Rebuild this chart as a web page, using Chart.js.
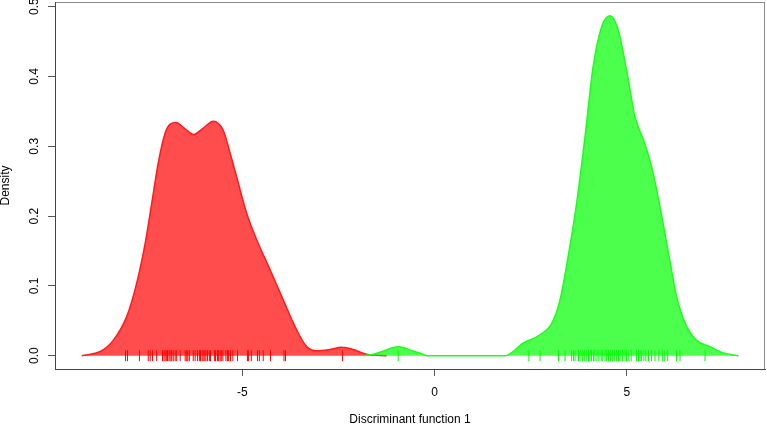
<!DOCTYPE html>
<html>
<head>
<meta charset="utf-8">
<script src="https://cdn.jsdelivr.net/npm/chart.js@4.4.1/dist/chart.umd.min.js"></script>
<style>
  html, body { margin: 0; padding: 0; background: #fff; }
  #wrap { width: 767px; height: 424px; }
</style>
</head>
<body>
<div id="wrap"><canvas id="c" width="767" height="424"></canvas></div>
<script>
// Density curve of group 1 (red)
const redX = [-9.18, -8.70, -8.36, -8.01, -7.75, -7.53, -7.36, -7.19, -7.01, -6.87, -6.73, -6.49, -6.27, -6.02, -5.76, -5.50, -5.32, -5.15, -4.89, -4.63, -4.28, -3.94, -3.59, -3.33, -3.07, -2.72, -2.42, -2.12, -1.77, -1.25];
const redY = [0.000, 0.006, 0.022, 0.056, 0.104, 0.161, 0.218, 0.276, 0.319, 0.332, 0.334, 0.325, 0.317, 0.326, 0.336, 0.323, 0.290, 0.256, 0.204, 0.166, 0.123, 0.080, 0.037, 0.013, 0.007, 0.009, 0.012, 0.009, 0.002, 0.000];

// Density curve of group 2 (green)
const greenX = [-1.86, -1.60, -1.35, -0.95, -0.55, -0.30, -0.21, 1.83, 2.30, 2.74, 3.04, 3.26, 3.47, 3.69, 3.91, 4.12, 4.34, 4.56, 4.77, 4.99, 5.21, 5.43, 5.64, 5.86, 6.08, 6.29, 6.55, 6.81, 7.16, 7.51, 7.90];
const greenY = [0.000, 0.002, 0.0065, 0.013, 0.0065, 0.002, 0.000, 0.000, 0.018, 0.030, 0.046, 0.080, 0.142, 0.218, 0.314, 0.414, 0.471, 0.487, 0.467, 0.409, 0.342, 0.309, 0.271, 0.213, 0.147, 0.085, 0.042, 0.022, 0.013, 0.004, 0.000];

// Rug (individual observations)
const redRug = [-8.04, -7.99, -7.68, -7.45, -7.40, -7.34, -7.23, -7.08, -7.04, -7.01, -6.97, -6.95, -6.91, -6.88, -6.84, -6.80, -6.75, -6.71, -6.62, -6.49, -6.45, -6.42, -6.38, -6.28, -6.23, -6.17, -6.12, -6.09, -6.05, -6.02, -5.98, -5.95, -5.91, -5.86, -5.83, -5.73, -5.70, -5.65, -5.62, -5.58, -5.55, -5.51, -5.43, -5.39, -5.36, -5.31, -5.25, -5.13, -4.87, -4.84, -4.77, -4.61, -4.56, -4.46, -4.27, -3.92, -3.88, -2.40];
const greenRug = [-0.95, 2.45, 2.74, 3.22, 3.39, 3.56, 3.61, 3.65, 3.74, 3.78, 3.84, 3.89, 3.94, 4.00, 4.04, 4.08, 4.13, 4.17, 4.22, 4.27, 4.33, 4.37, 4.43, 4.47, 4.52, 4.57, 4.62, 4.67, 4.73, 4.78, 4.82, 4.88, 4.95, 4.99, 5.05, 5.11, 5.25, 5.30, 5.34, 5.38, 5.44, 5.49, 5.56, 5.64, 5.73, 5.83, 5.92, 5.97, 6.06, 6.29, 6.38, 7.03];

// Axis ticks
const xTicks = [-5, 0, 5];
const yTicks = [0.0, 0.1, 0.2, 0.3, 0.4, 0.5];

const xTitle = 'Discriminant function 1';
const yTitle = 'Density';

const pts = (xs, ys) => xs.map((x, i) => ({x: x, y: ys[i]}));
const rugPts = xs => xs.map(x => ({x: x, y: 0}));

const FONT = '"Liberation Sans", Arial, Helvetica, sans-serif';

const boxPlugin = {
  id: 'box',
  beforeDraw(chart) {
    const a = chart.chartArea, ctx = chart.ctx;
    ctx.save();
    ctx.strokeStyle = '#8c8c8c';
    ctx.lineWidth = 1;
    ctx.strokeRect(a.left + 0.5, a.top + 0.5, a.right - a.left - 1, a.bottom - a.top);
    ctx.restore();
  }
};

const noPad = s => { s.paddingTop = 0; s.paddingBottom = 0; s.paddingLeft = 0; s.paddingRight = 0; };

new Chart(document.getElementById('c'), {
  type: 'line',
  plugins: [boxPlugin],
  data: {
    datasets: [
      {
        type: 'scatter', data: rugPts(greenRug), order: 1,
        pointStyle: 'line', rotation: 90, radius: 5.5, borderColor: '#00ff00', borderWidth: 1,
        backgroundColor: '#00ff00', showLine: false
      },
      {
        type: 'scatter', data: rugPts(redRug), order: 2,
        pointStyle: 'line', rotation: 90, radius: 5.5, borderColor: '#ff0000', borderWidth: 1,
        backgroundColor: '#ff0000', showLine: false
      },
      {
        data: pts(greenX, greenY), order: 3,
        borderColor: '#1cff1c', borderWidth: 1.5, backgroundColor: 'rgba(0,255,0,0.7)',
        fill: 'origin', pointRadius: 0, cubicInterpolationMode: 'monotone'
      },
      {
        data: pts(redX, redY), order: 4,
        borderColor: '#ff1c1c', borderWidth: 1.5, backgroundColor: 'rgba(255,0,0,0.7)',
        fill: 'origin', pointRadius: 0, cubicInterpolationMode: 'monotone'
      }
    ]
  },
  options: {
    responsive: false,
    animation: false,
    events: [],
    layout: { autoPadding: false, padding: { top: 2, right: 2, left: 0, bottom: 0 } },
    plugins: { legend: { display: false }, tooltip: { enabled: false } },
    scales: {
      x: {
        type: 'linear', min: -9.875, max: 8.59,
        afterBuildTicks: s => { s.ticks = xTicks.map(v => ({value: v})); },
        afterFit: s => { s.height = 55; noPad(s); },
        grid: { drawOnChartArea: false, drawTicks: true, tickLength: 7, tickColor: '#555', tickWidth: 1 },
        border: { display: true, color: '#444', width: 1 },
        ticks: { color: '#000', font: { family: FONT, size: 12 }, padding: 9, maxRotation: 0,
                 callback: v => String(v) },
        title: { display: true, text: xTitle, color: '#000', font: { family: FONT, size: 12, lineHeight: 1 },
                 padding: { top: 0, bottom: -2 } }
      },
      y: {
        type: 'linear', min: -0.01905, max: 0.5067,
        afterBuildTicks: s => { s.ticks = yTicks.map(v => ({value: v})); },
        afterFit: s => { s.width = 55; noPad(s); },
        grid: { drawOnChartArea: false, drawTicks: true, tickLength: 7, tickColor: '#555', tickWidth: 1 },
        border: { display: true, color: '#444', width: 1 },
        ticks: { color: '#000', font: { family: FONT, size: 12 }, padding: 4.5, minRotation: 90, maxRotation: 90,
                 crossAlign: 'center', callback: v => v.toFixed(1) },
        title: { display: true, text: yTitle, color: '#000', font: { family: FONT, size: 12, lineHeight: 1 },
                 padding: { top: 0, bottom: 0 } }
      }
    }
  }
});
</script>
</body>
</html>
